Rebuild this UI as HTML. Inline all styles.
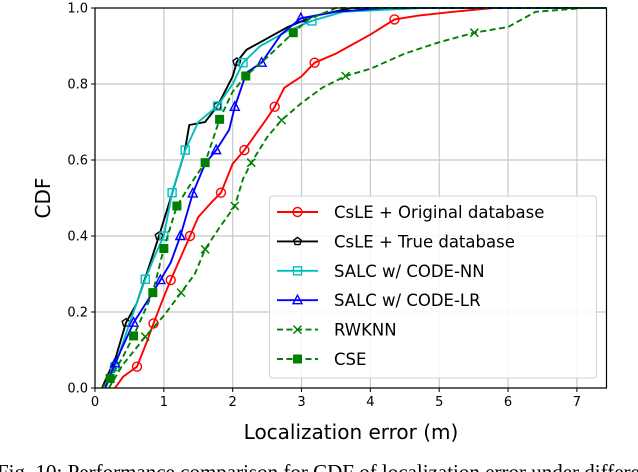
<!DOCTYPE html>
<html><head><meta charset="utf-8">
<style>
html,body{margin:0;padding:0;background:#fff;width:638px;height:472px;overflow:hidden}
svg{display:block;font-family:"DejaVu Sans","Liberation Sans",sans-serif}
</style></head>
<body>
<svg id="chart" width="638" height="472" viewBox="0 0 638 472"></svg>
<script>
const xTicks=[0,1,2,3,4,5,6,7];
const yTicks=[0.0,0.2,0.4,0.6,0.8,1.0];
const seriesNames=["CsLE + Original database","CsLE + True database","SALC w/ CODE-NN","SALC w/ CODE-LR","RWKNN","CSE"];
const origX=[0.29,0.41,0.61,0.75,0.85,1.0,1.10,1.38,1.5,1.7,1.83,2.0,2.17,2.5,2.61,2.75,3.0,3.19,3.5,4.0,4.35,4.7,5.2,5.78];
const origY=[0,0.03,0.056,0.12,0.17,0.24,0.284,0.40,0.45,0.49,0.514,0.59,0.626,0.71,0.74,0.79,0.82,0.856,0.88,0.93,0.97,0.98,0.99,1.0];
const trueX=[0.1,0.3,0.45,0.6,0.75,0.93,1.1,1.3,1.37,1.6,1.78,2.0,2.06,2.2,2.5,2.8,3.2,3.73];
const trueY=[0,0.08,0.172,0.22,0.3,0.40,0.5,0.62,0.692,0.70,0.742,0.82,0.858,0.89,0.92,0.95,0.98,1.0];
const nnX=[0.15,0.29,0.5,0.73,0.85,1.0,1.12,1.31,1.5,1.78,2.0,2.15,2.4,2.8,3.15,3.6,4.76];
const nnY=[0,0.056,0.17,0.286,0.34,0.40,0.514,0.626,0.70,0.742,0.80,0.856,0.90,0.94,0.966,0.99,1.0];
const lrX=[0.15,0.29,0.56,0.8,0.95,1.1,1.24,1.42,1.6,1.76,1.95,2.03,2.2,2.42,2.7,2.99,3.5,4.2];
const lrY=[0,0.065,0.172,0.24,0.284,0.33,0.40,0.512,0.59,0.626,0.68,0.74,0.83,0.856,0.93,0.973,0.99,1.0];
const rwX=[0.2,0.4,0.73,1.0,1.25,1.45,1.60,1.8,2.03,2.15,2.27,2.5,2.71,3.0,3.3,3.64,4.0,4.5,5.0,5.51,6.0,6.4,7.1];
const rwY=[0,0.06,0.135,0.19,0.251,0.30,0.365,0.42,0.479,0.55,0.593,0.66,0.705,0.75,0.79,0.821,0.84,0.88,0.91,0.935,0.95,0.99,1.0];
const cseX=[0.1,0.22,0.4,0.56,0.84,1.0,1.19,1.4,1.60,1.81,2.0,2.19,2.5,2.88,3.1,3.5];
const cseY=[0,0.025,0.08,0.137,0.251,0.367,0.479,0.54,0.593,0.707,0.78,0.821,0.87,0.935,0.97,1.0];
const origMk=[2,4,6,7,10,12,14,17,20];
const trueMk=[2,5,10,12];
const nnMk=[1,3,5,6,7,9,11,14];
const lrMk=[1,2,4,6,7,9,11,13,15];
const rwMk=[2,4,6,8,10,12,15,19];
const cseMk=[1,3,4,5,6,8,9,11,13];

const NS="http://www.w3.org/2000/svg";
const svg=document.getElementById('chart');
const L=95,R=606.5,T=8,B=388,XMAX=7.43;
const sx=v=>L+v/XMAX*(R-L);
const sy=v=>B-v*(B-T);
function mk(tag,attrs,parent){const e=document.createElementNS(NS,tag);for(const k in attrs)e.setAttribute(k,attrs[k]);(parent||svg).appendChild(e);return e;}

const grid=mk('g',{});


xTicks.forEach(t=>{mk('line',{x1:sx(t),x2:sx(t),y1:T,y2:B,stroke:'#c8c8c8','stroke-width':1.2},grid);});
yTicks.forEach(t=>{mk('line',{x1:L,x2:R,y1:sy(t),y2:sy(t),stroke:'#c8c8c8','stroke-width':1.2},grid);});

const colors=['#ff0000','#000000','#00bfbf','#0000ff','#008000','#008000'];
const xs=[origX,trueX,nnX,lrX,rwX,cseX], ys=[origY,trueY,nnY,lrY,rwY,cseY], mks=[origMk,trueMk,nnMk,lrMk,rwMk,cseMk];
const dashes=[null,null,null,null,'6,3.5','6,3.5'];
const markerTypes=['circle','pentagon','square','triangle','x','filledsquare'];
function drawMarker(g,type,x,y,c){
  if(type==='circle')mk('circle',{cx:x,cy:y,r:4.5,fill:'none',stroke:c,'stroke-width':1.4},g);
  else if(type==='pentagon'){let p=[];for(let i=0;i<5;i++){const a=-Math.PI/2+i*2*Math.PI/5;p.push((x+4*Math.cos(a)).toFixed(1)+','+(y+4*Math.sin(a)).toFixed(1));}mk('polygon',{points:p.join(' '),fill:'none',stroke:c,'stroke-width':1.4},g);}
  else if(type==='square')mk('rect',{x:x-4,y:y-4,width:8,height:8,fill:'none',stroke:c,'stroke-width':1.4},g);
  else if(type==='triangle')mk('polygon',{points:`${x},${y-5} ${x-4.5},${y+3.5} ${x+4.5},${y+3.5}`,fill:'none',stroke:c,'stroke-width':1.4},g);
  else if(type==='x'){mk('path',{d:`M${x-4},${y-4}L${x+4},${y+4}M${x-4},${y+4}L${x+4},${y-4}`,stroke:c,'stroke-width':1.5},g);}
  else mk('rect',{x:x-4.5,y:y-4.5,width:9,height:9,fill:c},g);
}
const names=['series-csle-original','series-csle-true','series-salc-code-nn','series-salc-code-lr','series-rwknn','series-cse'];
const plot=mk('g',{});
const clip=mk('clipPath',{id:'clp'});mk('rect',{x:L,y:T-6,width:R-L,height:B-T+12},clip);
plot.setAttribute('clip-path','url(#clp)');
for(let s=0;s<6;s++){
  const g=mk('g',{},plot);
  
  
  const d=xs[s].map((v,i)=>(i?'L':'M')+sx(v).toFixed(1)+','+sy(ys[s][i]).toFixed(1)).join('')+'L'+sx(XMAX+1)+','+sy(1);
  const a={d:d,fill:'none',stroke:colors[s],'stroke-width':1.9};
  if(dashes[s])a['stroke-dasharray']=dashes[s];
  mk('path',a,g);
  mks[s].forEach(i=>drawMarker(g,markerTypes[s],sx(xs[s][i]),sy(ys[s][i]),colors[s]));
}
mk('rect',{x:L,y:T,width:R-L,height:B-T,fill:'none',stroke:'#000','stroke-width':1.2});

const xa=mk('g',{});


xTicks.forEach(t=>{mk('line',{x1:sx(t),x2:sx(t),y1:B,y2:B+4,stroke:'#000'},xa);const tx=mk('text',{x:sx(t),y:B+18,'text-anchor':'middle','font-size':13},xa);tx.textContent=t;});
const ya=mk('g',{});


yTicks.forEach(t=>{mk('line',{x1:L-4,x2:L,y1:sy(t),y2:sy(t),stroke:'#000'},ya);const tx=mk('text',{x:L-7,y:sy(t)+4.5,'text-anchor':'end','font-size':13},ya);tx.textContent=t.toFixed(1);});
const xl=mk('text',{x:351,y:439,'text-anchor':'middle','font-size':20});


xl.textContent='Localization error (m)';
const yl=mk('text',{x:0,y:0,'text-anchor':'middle','font-size':20,transform:'translate(50,198) rotate(-90)'});


yl.textContent='CDF';

const lg=mk('g',{});


mk('rect',{x:269.5,y:196,width:327,height:182,rx:3,fill:'#fff','fill-opacity':0.85,stroke:'#d0d0d0'},lg);
for(let s=0;s<6;s++){
  const y=212+s*29.4;
  const e=mk('g',{},lg);
  
  
  const a={x1:277,x2:318,y1:y,y2:y,stroke:colors[s],'stroke-width':1.9};
  if(dashes[s])a['stroke-dasharray']='6,3.5';
  mk('line',a,e);
  drawMarker(e,markerTypes[s],297.5,y,colors[s]);
  const tx=mk('text',{x:334,y:y+6,'font-size':16.5},e);tx.textContent=seriesNames[s];
}
const cap=mk('text',{x:-3,y:479,'font-size':21,'font-family':'"Liberation Serif",serif'});


cap.textContent='Fig. 10: Performance comparison for CDF of localization error under different';
</script>
</body></html>
